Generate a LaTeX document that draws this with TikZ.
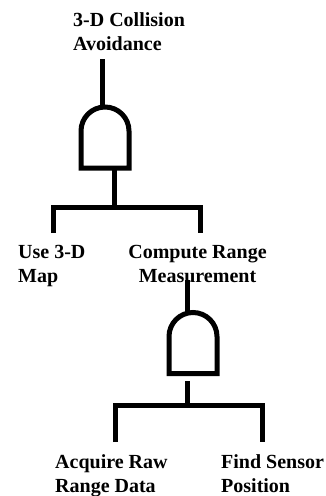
\documentclass[tikz,border=0pt]{standalone}
\usepackage{fontspec}
\setmainfont{Liberation Serif}
\usetikzlibrary{calc}
\tikzset{
  wire/.style={line width=5pt,line join=miter},
  goal/.style={font=\fontsize{20}{24.5}\selectfont\bfseries,inner sep=0pt,align=left},
  % and gate, origin at the middle of its flat base
  pics/andgate/.style={code={
    \draw[wire] (-24,0) -- (-24,-37) arc[start angle=180,end angle=0,radius=24pt] -- (24,0) -- cycle;
  }},
}

\begin{document}
\begin{tikzpicture}[x=1pt,y=-1pt]
  \useasboundingbox (0,0) rectangle (326,496);
  % goals
  \node[goal,anchor=north west] (avoid) at (73,12.3) {3-D Collision\\Avoidance};
  \node[goal,anchor=north west] (map) at (18,245) {Use 3-D\\Map};
  \node[goal,anchor=north,align=center] (range) at (197.5,245) {Compute Range\\Measurement};
  \node[goal,anchor=north west] (raw) at (55,454.3) {Acquire Raw\\Range Data};
  \node[goal,anchor=north west] (sensor) at (221,454.3) {Find Sensor\\Position};
  % gates
  \pic at (105,168) {andgate};
  \pic at (193,373.5) {andgate};
  \coordinate (g1in) at (102,107);
  \coordinate (g1out) at (114,168);
  \coordinate (g2in) at (187,312.5);
  \coordinate (g2out) at (187,381);
  \coordinate (bar1) at (114,207);
  \coordinate (bar2) at (187,405);
  \coordinate (mapleg) at (53,233);
  \coordinate (rangeleg) at (200,233);
  \coordinate (rawleg) at (115,442);
  \coordinate (sensorleg) at (262,442);
  % connectors
  \draw[wire] ([yshift=-8pt]avoid.south -| g1in) -- (g1in);
  \draw[wire] (g1out) -- (bar1);
  \draw[wire] (mapleg) -- (mapleg |- bar1) -- (rangeleg |- bar1) -- (rangeleg);
  \draw[wire] ([yshift=3pt]range.south -| g2in) -- (g2in);
  \draw[wire] (g2out) -- (bar2);
  \draw[wire] (rawleg) -- (rawleg |- bar2) -- (sensorleg |- bar2) -- (sensorleg);
\end{tikzpicture}
\end{document}
